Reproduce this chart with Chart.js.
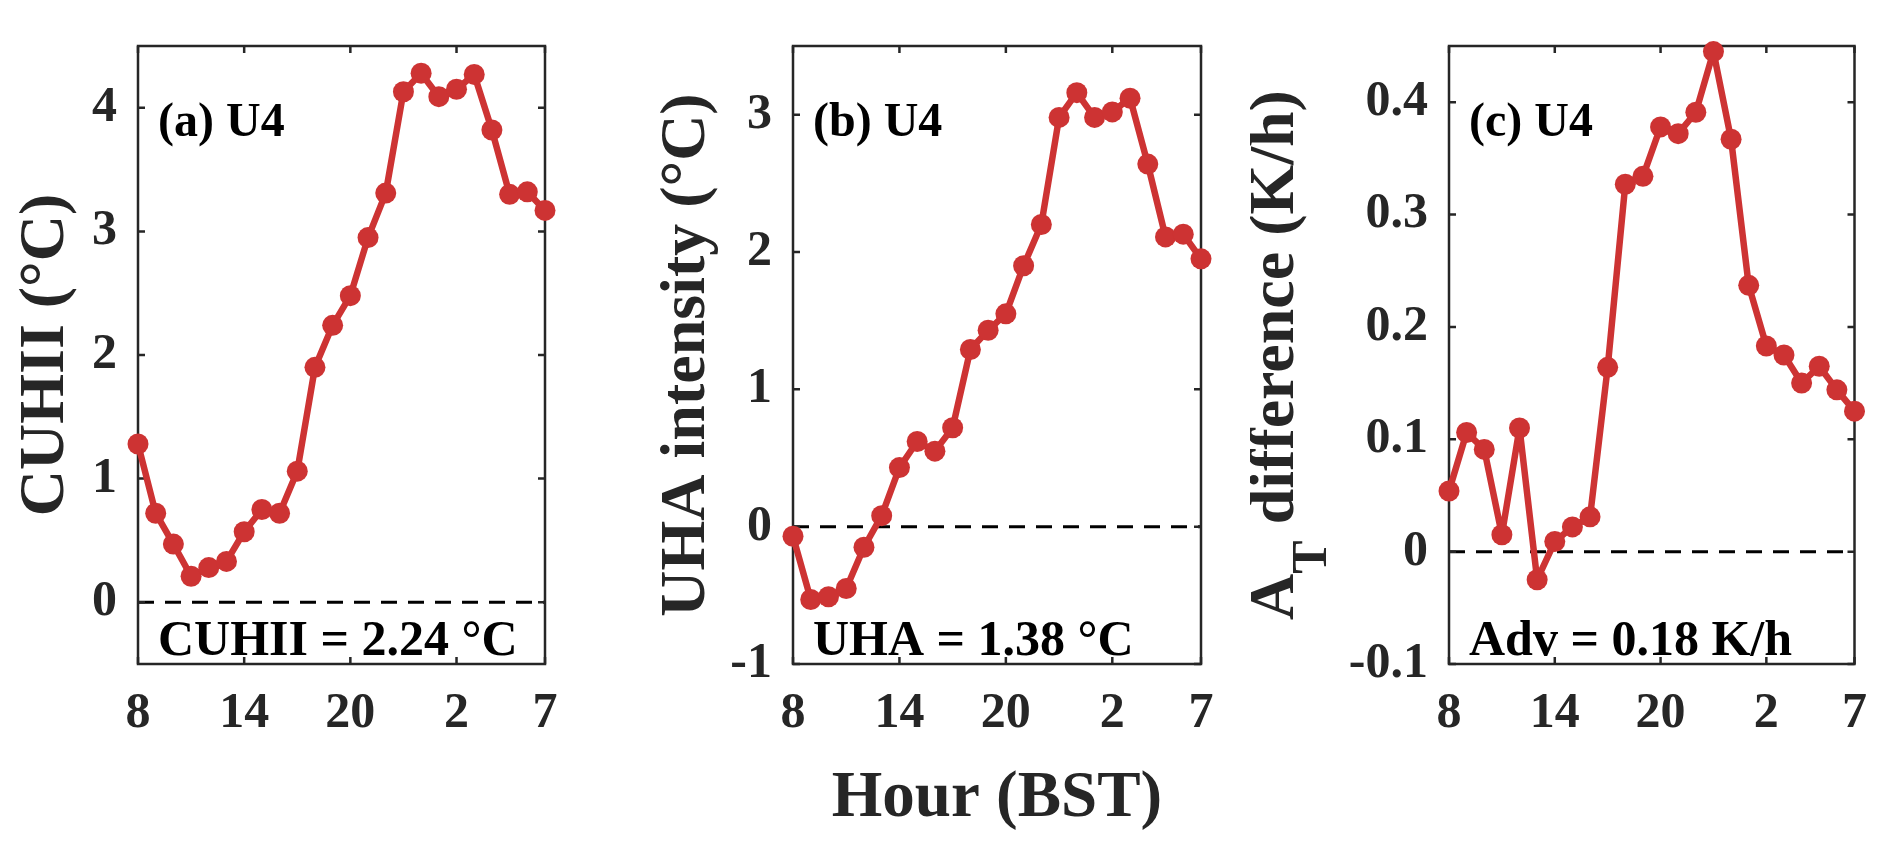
<!DOCTYPE html>
<html><head><meta charset="utf-8">
<script src="https://cdn.jsdelivr.net/npm/chart.js@4.4.0/dist/chart.umd.min.js"></script>
<style>
html,body{margin:0;padding:0;background:#fff;}
#wrap{position:relative;width:1892px;height:852px;overflow:hidden;background:#fff;}
canvas{position:absolute;top:0;}
</style></head><body>
<div id="wrap">
<canvas id="ca" width="600" height="852" style="left:0px;width:600px;height:852px"></canvas>
<canvas id="cb" width="650" height="852" style="left:600px;width:650px;height:852px"></canvas>
<canvas id="cc" width="642" height="852" style="left:1250px;width:642px;height:852px"></canvas>
</div>
<script>
// ---- data ----
const hours = ['8','9','10','11','12','13','14','15','16','17','18','19','20','21','22','23','0','1','2','3','4','5','6','7'];
const xTickHours = ['8','14','20','2','7'];
const cuhii = [1.28,0.72,0.47,0.21,0.28,0.33,0.57,0.75,0.72,1.06,1.90,2.24,2.48,2.95,3.31,4.13,4.28,4.09,4.15,4.27,3.82,3.30,3.32,3.17];
const uha = [-0.07,-0.53,-0.51,-0.45,-0.15,0.08,0.43,0.62,0.55,0.72,1.29,1.43,1.55,1.90,2.20,2.98,3.16,2.98,3.02,3.12,2.64,2.11,2.13,1.95];
const advDiff = [0.054,0.106,0.091,0.015,0.110,-0.025,0.009,0.022,0.031,0.164,0.327,0.334,0.378,0.372,0.391,0.445,0.367,0.237,0.183,0.175,0.150,0.165,0.144,0.125];
const yTicksA = [0,1,2,3,4];
const yTicksB = [-1,0,1,2,3];
const yTicksC = [-0.1,0,0.1,0.2,0.3,0.4];
const panelLabels = ['(a) U4','(b) U4','(c) U4'];
const summaryTexts = ['CUHII = 2.24 °C','UHA = 1.38 °C','Adv = 0.18 K/h'];
const yTitles = ['CUHII (°C)','UHA intensity (°C)'];
const yTitleCParts = ['A','T',' difference (K/h)'];
const xTitle = 'Hour (BST)';

const RED = '#CD3333';
const DARK = '#262626';
const FONT = '"Liberation Serif", "Times New Roman", serif';

const deco = {
  id: 'deco',
  beforeDatasetsDraw(chart, args, opts) {
    const {ctx, chartArea: a, scales: {x, y}} = chart;
    ctx.save();
    // zero dashed line
    const y0 = y.getPixelForValue(0);
    ctx.strokeStyle = '#000'; ctx.lineWidth = 3; ctx.setLineDash([16, 11]);
    ctx.beginPath(); ctx.moveTo(a.left, y0); ctx.lineTo(a.right, y0); ctx.stroke();
    ctx.setLineDash([]);
    // annotations
    ctx.fillStyle = '#000'; ctx.textAlign = 'left'; ctx.textBaseline = 'alphabetic';
    ctx.font = 'bold 48px ' + FONT;
    ctx.fillText(opts.top, a.left + 20, a.top + 90);
    ctx.font = 'bold 50px ' + FONT;
    ctx.fillText(opts.bottom, a.left + 20, a.bottom - 9);
    // box
    ctx.strokeStyle = DARK; ctx.lineWidth = 2.5;
    ctx.strokeRect(a.left, a.top, a.right - a.left, a.bottom - a.top);
    // inward ticks on all sides
    ctx.beginPath();
    x.ticks.forEach((t, i) => {
      const px = x.getPixelForTick(i);
      ctx.moveTo(px, a.bottom); ctx.lineTo(px, a.bottom - 7);
      ctx.moveTo(px, a.top); ctx.lineTo(px, a.top + 7);
    });
    y.ticks.forEach((t, i) => {
      const py = y.getPixelForTick(i);
      ctx.moveTo(a.left, py); ctx.lineTo(a.left + 7, py);
      ctx.moveTo(a.right, py); ctx.lineTo(a.right - 7, py);
    });
    ctx.stroke();
    // custom y title with subscript
    if (opts.subTitle) {
      const cy = (a.top + a.bottom) / 2;
      ctx.translate(opts.subTitleX, cy);
      ctx.rotate(-Math.PI / 2);
      ctx.fillStyle = DARK;
      const big = 'bold 64px ' + FONT, small = 'bold 50px ' + FONT;
      ctx.font = big; const wA = ctx.measureText(opts.subTitle[0]).width; const wR = ctx.measureText(opts.subTitle[2]).width;
      ctx.font = small; const wT = ctx.measureText(opts.subTitle[1]).width;
      let x0 = -(wA + wT + wR) / 2;
      ctx.font = big; ctx.fillText(opts.subTitle[0], x0, 0);
      ctx.font = small; ctx.fillText(opts.subTitle[1], x0 + wA, 33);
      ctx.font = big; ctx.fillText(opts.subTitle[2], x0 + wA + wT, 0);
    }
    ctx.restore();
  }
};

function makePanel(id, values, yMin, yMax, yTicks, fmt, g, idx) {
  new Chart(document.getElementById(id), {
    type: 'line',
    data: {
      labels: hours,
      datasets: [{
        data: values,
        borderColor: RED, backgroundColor: RED,
        borderWidth: 6.5, borderJoinStyle: 'round', borderCapStyle: 'round',
        pointRadius: 10.5, pointHoverRadius: 10.5,
        pointBackgroundColor: RED, pointBorderWidth: 0,
        tension: 0, clip: false
      }]
    },
    options: {
      responsive: false, animation: false, devicePixelRatio: 1,
      layout: {padding: {left: 0, right: g.padRight, top: 32, bottom: 0}},
      plugins: {
        legend: {display: false}, tooltip: {enabled: false},
        deco: {top: panelLabels[idx], bottom: summaryTexts[idx], subTitle: g.subTitle || null, subTitleX: g.subTitleX}
      },
      scales: {
        x: {
          type: 'category', offset: false,
          grid: {display: false, drawTicks: false}, border: {display: false},
          afterBuildTicks: s => { s.ticks = s.ticks.filter(t => xTickHours.includes(hours[t.value])); },
          afterFit: s => { s.height = 188; },
          ticks: {color: DARK, padding: 25, maxRotation: 0, autoSkip: false, font: {family: FONT, weight: 'bold', size: 50, lineHeight: 1}},
          title: {display: !!g.xTitle, text: g.xTitle || '', color: DARK, padding: {top: 0, bottom: 20}, font: {family: FONT, weight: 'bold', size: 65, lineHeight: 1}}
        },
        y: {
          type: 'linear', min: yMin, max: yMax,
          grid: {display: false, drawTicks: false}, border: {display: false},
          afterBuildTicks: s => { s.ticks = yTicks.map(v => ({value: v})); },
          afterFit: s => { s.width = g.yWidth; },
          ticks: {color: DARK, padding: 21, callback: fmt, font: {family: FONT, weight: 'bold', size: 50, lineHeight: 1}},
          title: {display: !!g.yTitle, text: g.yTitle || '', color: DARK, padding: {top: g.yTitlePad, bottom: 0}, font: {family: FONT, weight: 'bold', size: 64, lineHeight: 1}}
        }
      }
    },
    plugins: [deco]
  });
}

const intFmt = v => String(v);
const decFmt = v => (Math.abs(v) < 1e-9 ? '0' : v.toFixed(1));

makePanel('ca', cuhii, -0.5, 4.5, yTicksA, intFmt, {yWidth: 138, padRight: 55, yTitle: yTitles[0], yTitlePad: 14}, 0);
makePanel('cb', uha, -1, 3.5, yTicksB, intFmt, {yWidth: 193, padRight: 49, yTitle: yTitles[1], yTitlePad: 55, xTitle: xTitle}, 1);
makePanel('cc', advDiff, -0.1, 0.45, yTicksC, decFmt, {yWidth: 199, padRight: 35, subTitle: yTitleCParts, subTitleX: 43}, 2);
</script>
</body></html>
